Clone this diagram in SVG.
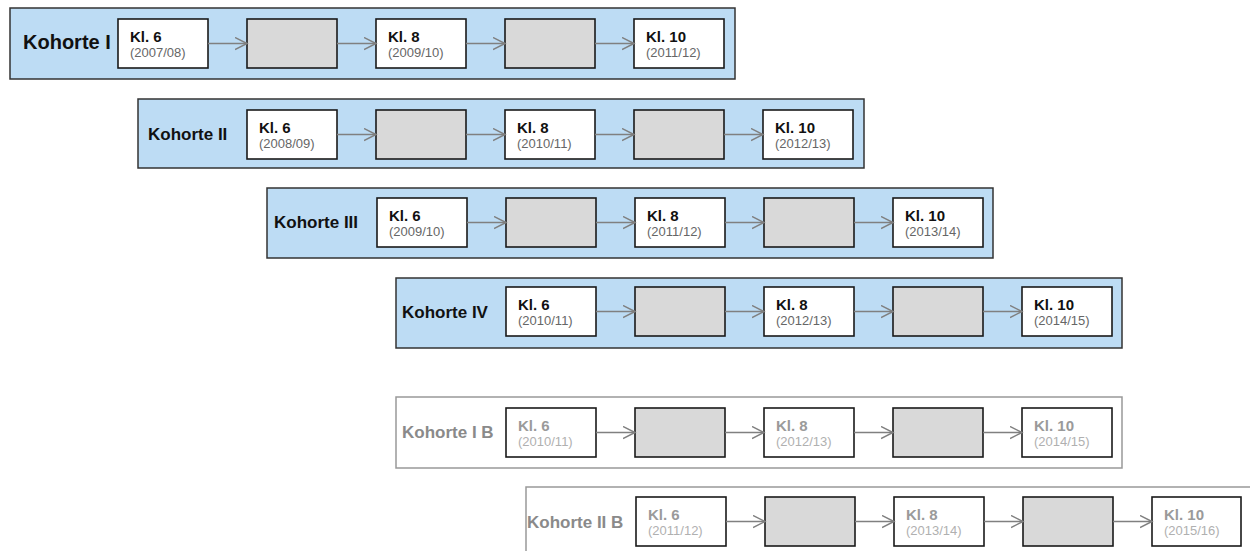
<svg xmlns="http://www.w3.org/2000/svg" width="1250" height="551" viewBox="0 0 1250 551">
<style>
.outer{fill:#bddcf4;stroke:#333;stroke-width:1.5}
.outerg{fill:#fff;stroke:#999;stroke-width:1.5}
.box{fill:#fff;stroke:#1a1a1a;stroke-width:1.6}
.gbox{fill:#d9d9d9;stroke:#1a1a1a;stroke-width:1.6}
.lbl{font-family:"Liberation Sans",Arial,sans-serif;font-weight:bold;font-size:17px;fill:#111}
.lblg{font-family:"Liberation Sans",Arial,sans-serif;font-weight:bold;font-size:17px;fill:#8a8a8a}
.kl{font-family:"Liberation Sans",Arial,sans-serif;font-weight:bold;font-size:15px;fill:#111}
.klg{font-family:"Liberation Sans",Arial,sans-serif;font-weight:bold;font-size:15px;fill:#9a9a9a}
.yr{font-family:"Liberation Sans",Arial,sans-serif;font-size:13px;fill:#666}
.yrg{font-family:"Liberation Sans",Arial,sans-serif;font-size:13px;fill:#b0b0b0}
.con line{stroke:#808080;stroke-width:1.5;fill:none}
</style>
<defs>
<marker id="chev" markerUnits="userSpaceOnUse" markerWidth="14" markerHeight="14" refX="12" refY="7" orient="auto">
<path d="M0,1 L12,7 L0,13" fill="none" stroke="#808080" stroke-width="1.5"/>
</marker>
</defs>

<!-- Row 1 -->
<g id="kohorte1">
<rect class="outer" x="10" y="8" width="725" height="71"/>
<text class="lbl" x="23" y="49" style="font-size:20px">Kohorte I</text>
</g>
<g id="k1-kl6"><rect class="box" x="118" y="19" width="90" height="49"/><text class="kl" x="130" y="42">Kl. 6</text><text class="yr" x="130" y="57">(2007/08)</text></g>
<g id="k1-g1"><rect class="gbox" x="247" y="19" width="90" height="49"/></g>
<g id="k1-kl8"><rect class="box" x="376" y="19" width="90" height="49"/><text class="kl" x="388" y="42">Kl. 8</text><text class="yr" x="388" y="57">(2009/10)</text></g>
<g id="k1-g2"><rect class="gbox" x="505" y="19" width="90" height="49"/></g>
<g id="k1-kl10"><rect class="box" x="634" y="19" width="90" height="49"/><text class="kl" x="646" y="42">Kl. 10</text><text class="yr" x="646" y="57">(2011/12)</text></g>

<!-- Row 2 -->
<g id="kohorte2">
<rect class="outer" x="138" y="99" width="726" height="69"/>
<text class="lbl" x="148" y="140">Kohorte II</text>
</g>
<g id="k2-kl6"><rect class="box" x="247" y="110" width="90" height="49"/><text class="kl" x="259" y="133">Kl. 6</text><text class="yr" x="259" y="148">(2008/09)</text></g>
<g id="k2-g1"><rect class="gbox" x="376" y="110" width="90" height="49"/></g>
<g id="k2-kl8"><rect class="box" x="505" y="110" width="90" height="49"/><text class="kl" x="517" y="133">Kl. 8</text><text class="yr" x="517" y="148">(2010/11)</text></g>
<g id="k2-g2"><rect class="gbox" x="634" y="110" width="90" height="49"/></g>
<g id="k2-kl10"><rect class="box" x="763" y="110" width="90" height="49"/><text class="kl" x="775" y="133">Kl. 10</text><text class="yr" x="775" y="148">(2012/13)</text></g>

<!-- Row 3 -->
<g id="kohorte3">
<rect class="outer" x="267" y="188" width="726" height="70"/>
<text class="lbl" x="274" y="228">Kohorte III</text>
</g>
<g id="k3-kl6"><rect class="box" x="377" y="198" width="90" height="49"/><text class="kl" x="389" y="221">Kl. 6</text><text class="yr" x="389" y="236">(2009/10)</text></g>
<g id="k3-g1"><rect class="gbox" x="506" y="198" width="90" height="49"/></g>
<g id="k3-kl8"><rect class="box" x="635" y="198" width="90" height="49"/><text class="kl" x="647" y="221">Kl. 8</text><text class="yr" x="647" y="236">(2011/12)</text></g>
<g id="k3-g2"><rect class="gbox" x="764" y="198" width="90" height="49"/></g>
<g id="k3-kl10"><rect class="box" x="893" y="198" width="90" height="49"/><text class="kl" x="905" y="221">Kl. 10</text><text class="yr" x="905" y="236">(2013/14)</text></g>

<!-- Row 4 -->
<g id="kohorte4">
<rect class="outer" x="396" y="278" width="726" height="70"/>
<text class="lbl" x="402" y="318">Kohorte IV</text>
</g>
<g id="k4-kl6"><rect class="box" x="506" y="287" width="90" height="49"/><text class="kl" x="518" y="310">Kl. 6</text><text class="yr" x="518" y="325">(2010/11)</text></g>
<g id="k4-g1"><rect class="gbox" x="635" y="287" width="90" height="49"/></g>
<g id="k4-kl8"><rect class="box" x="764" y="287" width="90" height="49"/><text class="kl" x="776" y="310">Kl. 8</text><text class="yr" x="776" y="325">(2012/13)</text></g>
<g id="k4-g2"><rect class="gbox" x="893" y="287" width="90" height="49"/></g>
<g id="k4-kl10"><rect class="box" x="1022" y="287" width="90" height="49"/><text class="kl" x="1034" y="310">Kl. 10</text><text class="yr" x="1034" y="325">(2014/15)</text></g>

<!-- Row 5 -->
<g id="kohorte1b">
<rect class="outerg" x="396" y="397" width="726" height="71"/>
<text class="lblg" x="402" y="438">Kohorte I B</text>
</g>
<g id="k1b-kl6"><rect class="box" x="506" y="408" width="90" height="49"/><text class="klg" x="518" y="431">Kl. 6</text><text class="yrg" x="518" y="446">(2010/11)</text></g>
<g id="k1b-g1"><rect class="gbox" x="635" y="408" width="90" height="49"/></g>
<g id="k1b-kl8"><rect class="box" x="764" y="408" width="90" height="49"/><text class="klg" x="776" y="431">Kl. 8</text><text class="yrg" x="776" y="446">(2012/13)</text></g>
<g id="k1b-g2"><rect class="gbox" x="893" y="408" width="90" height="49"/></g>
<g id="k1b-kl10"><rect class="box" x="1022" y="408" width="90" height="49"/><text class="klg" x="1034" y="431">Kl. 10</text><text class="yrg" x="1034" y="446">(2014/15)</text></g>

<!-- Row 6 -->
<g id="kohorte2b">
<rect class="outerg" x="526" y="487" width="726" height="70"/>
<text class="lblg" x="527" y="528">Kohorte II B</text>
</g>
<g id="k2b-kl6"><rect class="box" x="636" y="497" width="90" height="49"/><text class="klg" x="648" y="520">Kl. 6</text><text class="yrg" x="648" y="535">(2011/12)</text></g>
<g id="k2b-g1"><rect class="gbox" x="765" y="497" width="90" height="49"/></g>
<g id="k2b-kl8"><rect class="box" x="894" y="497" width="90" height="49"/><text class="klg" x="906" y="520">Kl. 8</text><text class="yrg" x="906" y="535">(2013/14)</text></g>
<g id="k2b-g2"><rect class="gbox" x="1023" y="497" width="90" height="49"/></g>
<g id="k2b-kl10"><rect class="box" x="1152" y="497" width="89" height="49"/><text class="klg" x="1164" y="520">Kl. 10</text><text class="yrg" x="1164" y="535">(2015/16)</text></g>

<g id="connectors" class="con">
<line x1="208" y1="43.5" x2="247" y2="43.5" marker-end="url(#chev)"/>
<line x1="337" y1="43.5" x2="376" y2="43.5" marker-end="url(#chev)"/>
<line x1="466" y1="43.5" x2="505" y2="43.5" marker-end="url(#chev)"/>
<line x1="595" y1="43.5" x2="634" y2="43.5" marker-end="url(#chev)"/>

<line x1="337" y1="134.5" x2="376" y2="134.5" marker-end="url(#chev)"/>
<line x1="466" y1="134.5" x2="505" y2="134.5" marker-end="url(#chev)"/>
<line x1="595" y1="134.5" x2="634" y2="134.5" marker-end="url(#chev)"/>
<line x1="724" y1="134.5" x2="763" y2="134.5" marker-end="url(#chev)"/>

<line x1="467" y1="222.5" x2="506" y2="222.5" marker-end="url(#chev)"/>
<line x1="596" y1="222.5" x2="635" y2="222.5" marker-end="url(#chev)"/>
<line x1="725" y1="222.5" x2="764" y2="222.5" marker-end="url(#chev)"/>
<line x1="854" y1="222.5" x2="893" y2="222.5" marker-end="url(#chev)"/>

<line x1="596" y1="311.5" x2="635" y2="311.5" marker-end="url(#chev)"/>
<line x1="725" y1="311.5" x2="764" y2="311.5" marker-end="url(#chev)"/>
<line x1="854" y1="311.5" x2="893" y2="311.5" marker-end="url(#chev)"/>
<line x1="983" y1="311.5" x2="1022" y2="311.5" marker-end="url(#chev)"/>

<line x1="596" y1="432.5" x2="635" y2="432.5" marker-end="url(#chev)"/>
<line x1="725" y1="432.5" x2="764" y2="432.5" marker-end="url(#chev)"/>
<line x1="854" y1="432.5" x2="893" y2="432.5" marker-end="url(#chev)"/>
<line x1="983" y1="432.5" x2="1022" y2="432.5" marker-end="url(#chev)"/>

<line x1="726" y1="521.5" x2="765" y2="521.5" marker-end="url(#chev)"/>
<line x1="855" y1="521.5" x2="894" y2="521.5" marker-end="url(#chev)"/>
<line x1="984" y1="521.5" x2="1023" y2="521.5" marker-end="url(#chev)"/>
<line x1="1113" y1="521.5" x2="1152" y2="521.5" marker-end="url(#chev)"/>
</g>
</svg>
